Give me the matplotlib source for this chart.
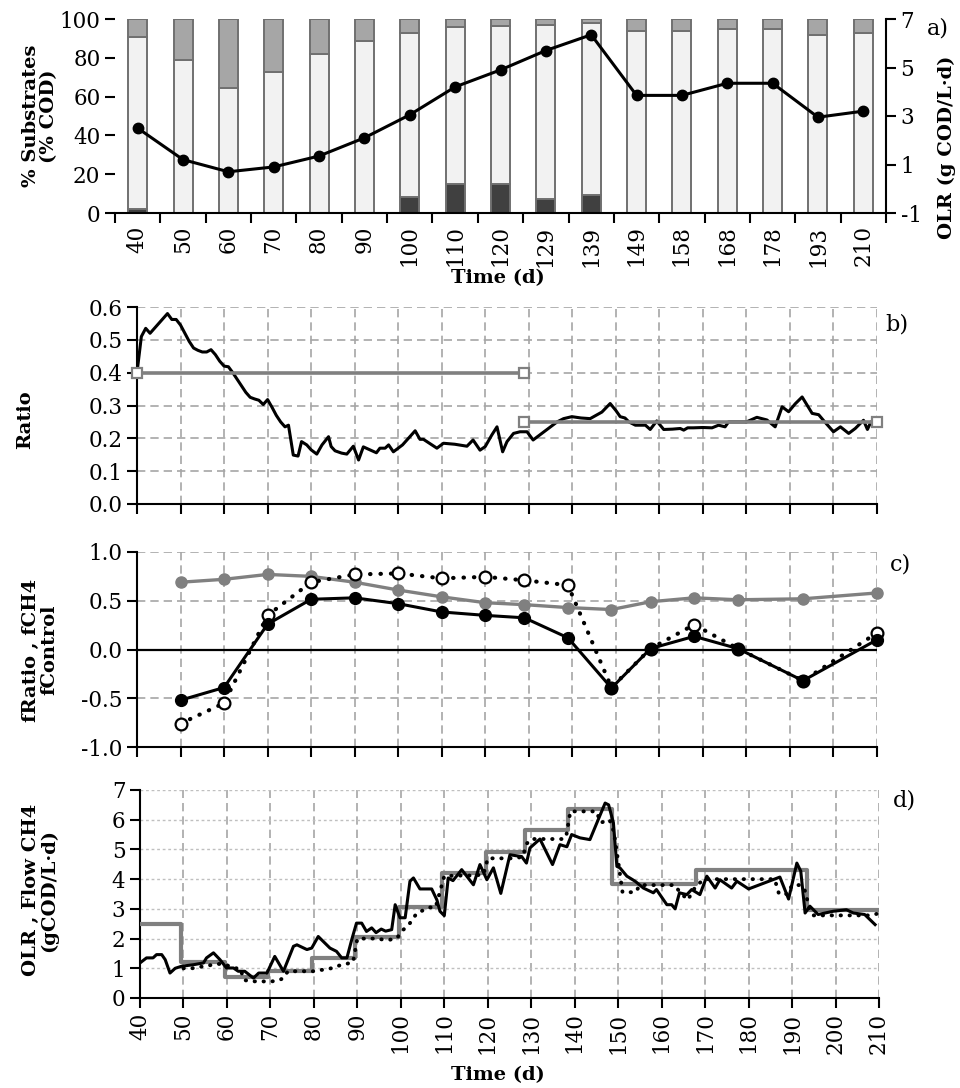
"""Four stacked panels: substrate mix + OLR (a), ratio (b), f-indices (c), OLR vs CH4 flow (d)."""
import matplotlib
matplotlib.use("Agg")
import matplotlib.pyplot as plt
import numpy as np

# ---- panel a: sampling days, % substrates (COD) and OLR -------------------
sample_labels = ["40", "50", "60", "70", "80", "90", "100", "110", "120", "129",
                 "139", "149", "158", "168", "178", "193", "210"]
pct_dark = [2, 0, 0, 0, 0, 0, 8, 15, 15, 7, 9.5, 0, 0, 0, 0, 0, 0]
pct_light = [88.5, 79, 64.5, 72.5, 82, 88.5, 85, 81, 81.5, 90, 88.5, 94, 94, 95, 95, 92, 93]
pct_mid = [9.5, 21, 35.5, 27.5, 18, 11.5, 7, 4, 3.5, 3, 2, 6, 6, 5, 5, 8, 7]
olr_sample = [2.5, 1.2, 0.7, 0.9, 1.35, 2.1, 3.05, 4.2, 4.9, 5.7, 6.35, 3.85, 3.85,
              4.35, 4.35, 2.95, 3.2]

# ---- panel b: measured ratio and target ratio ------------------------------
ratio_day = [40, 41, 42, 43, 44, 45, 46, 47, 48, 49, 50, 51, 52, 53, 54, 55, 56, 57, 58,
             59, 60, 61, 62, 63, 64, 65, 66, 67, 68, 69, 70, 71, 72, 73, 74, 74.8, 75.9,
             77, 77.8, 79, 80, 81.3, 82.5, 84, 84.6, 85.5, 87, 88.2, 89.7, 90.9, 92,
             93.5, 95, 95.8, 97, 97.8, 98.9, 100, 101, 102, 103.9, 105, 105.8, 107.5,
             108.9, 110.4, 113, 115.8, 117.2, 118.8, 120, 121.5, 122.7, 124, 125,
             126.5, 128, 129.6, 131, 133, 135, 136.5, 138, 139.9, 142, 144.1, 146.8,
             148.7, 150, 151, 152.1, 153, 154.5, 156.8, 157.9, 159.4, 161, 163, 164.8,
             165.6, 166.5, 167.8, 170, 172.1, 173.6, 175.1, 175.9, 178, 180, 182.4,
             184.7, 186.6, 188.2, 189.7, 191.2, 192.8, 194, 195.1, 196.6, 198, 200,
             201.6, 203.5, 205, 206.9, 207.8, 208.6, 209.5]
ratio_val = [0.40, 0.51, 0.535, 0.52, 0.535, 0.55, 0.565, 0.58, 0.562, 0.562, 0.545, 0.52,
             0.495, 0.475, 0.468, 0.463, 0.463, 0.47, 0.455, 0.435, 0.42, 0.418, 0.40,
             0.38, 0.36, 0.34, 0.325, 0.32, 0.316, 0.303, 0.318, 0.295, 0.27, 0.25,
             0.235, 0.24, 0.149, 0.146, 0.19, 0.18, 0.165, 0.152, 0.18, 0.205, 0.175,
             0.162, 0.155, 0.152, 0.176, 0.134, 0.174, 0.165, 0.156, 0.17, 0.17, 0.18,
             0.159, 0.17, 0.18, 0.195, 0.223, 0.197, 0.197, 0.182, 0.17, 0.185, 0.182,
             0.176, 0.195, 0.164, 0.175, 0.21, 0.235, 0.159, 0.19, 0.215, 0.22, 0.22,
             0.195, 0.215, 0.235, 0.25, 0.26, 0.266, 0.262, 0.26, 0.28, 0.306, 0.285,
             0.266, 0.262, 0.25, 0.24, 0.24, 0.227, 0.253, 0.227, 0.228, 0.23, 0.225,
             0.232, 0.232, 0.233, 0.232, 0.24, 0.235, 0.25, 0.25, 0.25, 0.264, 0.256,
             0.235, 0.296, 0.281, 0.305, 0.326, 0.30, 0.276, 0.272, 0.25, 0.22, 0.235,
             0.215, 0.23, 0.255, 0.227, 0.25, 0.245]
target1_day, target1_val = [40, 129], [0.40, 0.40]
target2_day, target2_val = [129, 210], [0.25, 0.25]

# ---- panel c: f-indices at sampling days ----------------------------------
c_day = [50, 60, 70, 80, 90, 100, 110, 120, 129, 139, 149, 158, 168, 178, 193, 210]
f_control = [0.69, 0.72, 0.77, 0.75, 0.69, 0.61, 0.54, 0.48, 0.46, 0.43, 0.41, 0.49,
             0.53, 0.51, 0.52, 0.58]
f_ratio = [-0.52, -0.39, 0.26, 0.515, 0.53, 0.47, 0.385, 0.35, 0.325, 0.12, -0.395,
           0.01, 0.135, 0.01, -0.32, 0.10]
f_ch4 = [-0.76, -0.55, 0.35, 0.69, 0.77, 0.78, 0.73, 0.745, 0.71, 0.66, -0.39, 0.01,
         0.255, 0.01, -0.32, 0.17]

# ---- panel d: OLR steps, measured CH4 flow, second CH4 series --------------
step_day = [40, 49.5, 59.5, 69.5, 79.5, 89.5, 99.5, 109.5, 119.5, 128.5, 138.5, 148.5,
            168, 193.5, 210]
step_olr = [2.5, 1.2, 0.7, 0.9, 1.35, 2.05, 3.05, 4.2, 4.9, 5.65, 6.35, 3.85, 4.3, 2.95,
            2.95]
flow_day = [40, 41.5, 43, 43.8, 45, 45.8, 46.9, 48.1, 49.6, 52.3, 54.6, 55.3, 56.9, 58.4,
            59.9, 61.5, 62.6, 64.1, 66.1, 67.3, 69.2, 71, 73, 75.3, 76.1, 78.4, 79.5, 81,
            83.7, 85.2, 86.4, 87.6, 88.7, 89.8, 91, 92.1, 93.3, 94.3, 95.5, 96.5, 97.9,
            98.7, 99.8, 101, 102.1, 102.9, 104.4, 107.1, 108.3, 109, 110, 110.9, 112, 114,
            116.7, 118.2, 119.8, 121.3, 123, 125.1, 127.8, 128.9, 129.7, 132, 134.9,
            136.6, 138.2, 139.3, 141.2, 143.5, 145.4, 147, 147.8, 148.9, 149.7, 150.4,
            152, 153.9, 155.8, 158.1, 158.8, 161.2, 162.3, 163.1, 164.1, 165.8, 166.9,
            168.8, 170.4, 172.3, 173.4, 176.1, 177.3, 180, 187.2, 189.2, 191.1, 192, 193,
            194.1, 196, 199.5, 202.5, 204.1, 206.7, 209.1]
flow_val = [1.18, 1.35, 1.35, 1.46, 1.46, 1.29, 0.84, 1.0, 1.07, 1.12, 1.18, 1.35, 1.52,
            1.29, 1.01, 1.01, 0.9, 0.9, 0.67, 0.84, 0.84, 1.4, 0.9, 1.74, 1.79, 1.63,
            1.68, 2.07, 1.68, 1.57, 1.35, 1.35, 1.96, 2.52, 2.52, 2.24, 2.36, 2.2, 2.32,
            2.25, 2.3, 3.14, 2.7, 2.7, 3.93, 4.04, 3.67, 3.67, 3.3, 2.92, 2.77, 4.04,
            3.95, 4.32, 3.81, 4.49, 3.98, 4.38, 3.52, 4.82, 4.76, 4.54, 5.05, 5.35, 4.49,
            5.16, 5.09, 5.5, 5.39, 5.33, 6.0, 6.56, 6.5, 5.9, 4.43, 4.38, 4.1, 3.93, 3.7,
            3.54, 3.65, 3.14, 3.14, 3.0, 3.54, 3.48, 3.65, 3.48, 4.1, 3.7, 3.98, 3.7,
            3.93, 3.67, 4.07, 3.33, 4.54, 4.27, 2.86, 3.09, 2.81, 2.92, 2.97, 2.86, 2.81,
            2.47]
model_day = [50, 52, 54, 56, 58, 60, 62, 63, 64, 66, 68, 70, 72, 73, 74, 78, 80, 82, 84,
             86, 89, 90, 94, 97, 99, 100.6, 102.1, 103.7, 106.7, 108, 110, 113, 116, 119,
             120, 126, 128, 129, 130, 137, 138, 139, 145, 146, 148, 149, 150, 151, 154,
             155, 163, 164, 166, 168, 170, 186, 187, 189, 190, 192, 193, 194, 195, 208,
             210]
model_val = [1.0, 1.0, 1.05, 1.1, 1.15, 1.1, 1.0, 1.0, 0.6, 0.56, 0.56, 0.55, 0.6, 0.67,
             0.9, 0.9, 0.9, 0.95, 1.0, 1.1, 1.2, 2.0, 2.0, 1.95, 2.0, 2.3, 2.52, 2.86,
             3.05, 3.05, 4.1, 4.12, 4.12, 4.15, 4.7, 4.7, 4.75, 5.2, 5.35, 5.35, 5.4, 6.28,
             6.28, 5.9, 6.0, 5.6, 4.6, 3.56, 3.56, 3.8, 3.8, 3.6, 3.3, 3.8, 4.0, 4.0, 3.5,
             3.5, 3.8, 3.8, 3.6, 3.0, 2.78, 2.78, 2.85]

DARK, LIGHT, MID, EDGE = "#404040", "#f2f2f2", "#a6a6a6", "#707070"
GREY = "#808080"
GRID = "#a6a6a6"

plt.rcParams.update({
    "font.family": ["DejaVu Serif"], "font.size": 14,
    "xtick.labelsize": 15.5, "ytick.labelsize": 15.5,
    "axes.unicode_minus": False, "axes.linewidth": 1.5,
    "xtick.major.width": 1.5, "ytick.major.width": 1.5,
    "xtick.major.size": 7, "ytick.major.size": 7,
})

W, H = 960, 1088
fig = plt.figure(figsize=(W / 100, H / 100), dpi=100)


def box(l, t, r, b):
    return [l / W, 1 - b / H, (r - l) / W, (b - t) / H]


def ftext(x, y, s, **kw):
    fig.text(x / W, 1 - y / H, s, **kw)


def time_axis(ax, labels):
    ax.set_xlim(40, 210)
    ax.set_xticks(np.arange(40, 211, 10))
    if labels:
        ax.set_xticklabels([str(v) for v in range(40, 211, 10)], rotation=90)
    else:
        ax.set_xticklabels([])
    ax.spines[["top", "right"]].set_visible(False)
    dash = dict(color=GRID, lw=1.2, ls=(0, (5, 3)))
    ax.grid(True, axis="x", **dash)
    ax.set_axisbelow(True)
    return dash


# ---- a ----
ax = fig.add_axes(box(115, 19, 886, 213))
x = np.arange(len(sample_labels))
bw = 0.42
bot2 = np.array(pct_dark) + np.array(pct_light)
ax.bar(x, pct_dark, bw, color=DARK, edgecolor=EDGE, lw=1.4, zorder=2)
ax.bar(x, pct_light, bw, bottom=pct_dark, color=LIGHT, edgecolor=EDGE, lw=1.4, zorder=2)
ax.bar(x, pct_mid, bw, bottom=bot2, color=MID, edgecolor=EDGE, lw=1.4, zorder=2)
ax.set_xlim(-0.5, len(x) - 0.5)
ax.set_ylim(0, 100)
ax.set_yticks(range(0, 101, 20))
ax.set_xticks(np.arange(-0.5, len(x)), labels=[])
ax.set_xticks(x, labels=sample_labels, minor=True, rotation=90)
ax.tick_params(axis="x", which="minor", length=0, pad=9)
ax.spines[["top", "right", "left"]].set_visible(False)
ax2 = ax.twinx()
ax2.plot(x, olr_sample, "o-", color="k", lw=2.2, ms=7.5, zorder=3)
ax2.set_ylim(-1, 7)
ax2.set_yticks([-1, 1, 3, 5, 7])
ax2.spines[["top", "left", "bottom"]].set_visible(False)
ftext(40, 116, "% Substrates\n(% COD)", rotation=90, ha="center", va="center",
      weight="bold", linespacing=1.0)
ftext(947, 147, "OLR (g COD/L·d)", rotation=90, ha="center", va="center", weight="bold")
ftext(498, 278, "Time (d)", ha="center", va="center", weight="bold")
ftext(927, 29, "a)", ha="left", va="center", fontsize=16)

# ---- b ----
ax = fig.add_axes(box(137, 307, 877, 504))
dash = time_axis(ax, False)
ax.grid(True, axis="y", **dash)
ax.plot(ratio_day, ratio_val, color="k", lw=2.2, zorder=3)
for d, v in ((target1_day, target1_val), (target2_day, target2_val)):
    ax.plot(d, v, color=GREY, lw=2.6, marker="s", ms=7, mfc="white", mec=GREY,
            mew=1.6, zorder=4, clip_on=False)
ax.set_ylim(0, 0.6)
ax.set_yticks(np.arange(0, 0.61, 0.1))
ax.yaxis.set_major_formatter("{x:.1f}")
ftext(25, 420, "Ratio", rotation=90, ha="center", va="center", weight="bold")
ftext(885, 325, "b)", ha="left", va="center", fontsize=16)

# ---- c ----
ax = fig.add_axes(box(137, 552, 877, 747))
dash = time_axis(ax, False)
ax.grid(True, axis="y", **dash)
ax.axhline(0, color="k", lw=1.6, zorder=2)
ax.plot(c_day, f_control, "o-", color=GREY, lw=2.4, ms=8, zorder=3, clip_on=False)
ax.plot(c_day, f_ch4, color="k", lw=3, ls=(0, (0.1, 2.4)), dash_capstyle="round",
        marker="o", ms=8.5, mfc="white", mec="k", mew=1.6, zorder=4, clip_on=False)
ax.plot(c_day, f_ratio, "o-", color="k", lw=2.2, ms=8.5, zorder=5, clip_on=False)
ax.set_ylim(-1, 1)
ax.set_yticks([-1, -0.5, 0, 0.5, 1])
ax.yaxis.set_major_formatter("{x:.1f}")
ftext(40, 650, "fRatio , fCH4\nfControl", rotation=90, ha="center", va="center",
      weight="bold", linespacing=1.0)
ftext(890, 564, "c)", ha="left", va="center", fontsize=16)

# ---- d ----
ax = fig.add_axes(box(140, 790, 879, 998))
time_axis(ax, True)
ax.grid(True, axis="y", color="#bfbfbf", lw=1.0, ls=(0, (2, 2)))
ax.step(step_day, step_olr, where="post", color=GREY, lw=3, zorder=3)
ax.plot(model_day, model_val, color="k", lw=2.8, ls=(0, (0.1, 2.2)),
        dash_capstyle="round", zorder=4)
ax.plot(flow_day, flow_val, color="k", lw=2.2, zorder=5)
ax.set_ylim(0, 7)
ax.set_yticks(range(0, 8))
ftext(40, 890, "OLR , Flow CH4\n(gCOD/L·d)", rotation=90, ha="center", va="center",
      weight="bold", linespacing=1.0)
ftext(498, 1075, "Time (d)", ha="center", va="center", weight="bold")
ftext(893, 800, "d)", ha="left", va="center", fontsize=16)

fig.savefig("out.png", dpi=100)
